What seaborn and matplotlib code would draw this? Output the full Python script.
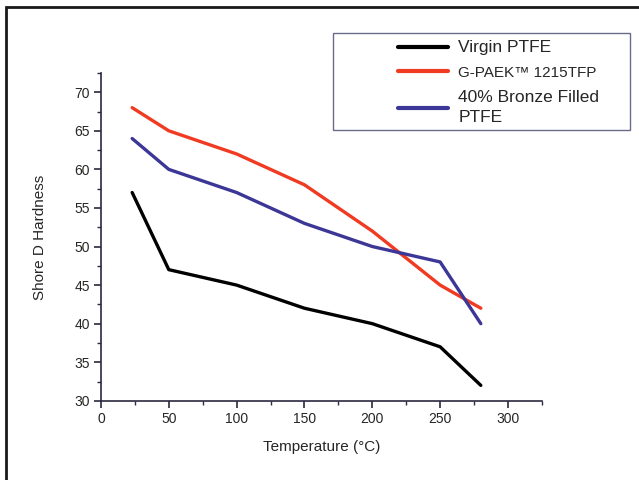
import pandas as pd
import numpy as np
import matplotlib.pyplot as plt
import seaborn as sns
from matplotlib.patches import Rectangle
from matplotlib.ticker import MultipleLocator

# data
temperature = [23, 50, 100, 150, 200, 250, 280]
virgin_ptfe = [57, 47, 45, 42, 40, 37, 32]
gpaek_1215tfp = [68, 65, 62, 58, 52, 45, 42]
bronze_ptfe = [64, 60, 57, 53, 50, 48, 40]

series_names = ['Virgin PTFE', 'G-PAEK\u2122 1215TFP', '40% Bronze Filled\nPTFE']
series_colors = ['#000000', '#f03a22', '#3c3796']

df = pd.DataFrame({
    'temperature': temperature * 3,
    'hardness': virgin_ptfe + gpaek_1215tfp + bronze_ptfe,
    'material': [n for n in series_names for _ in temperature],
})

sns.set_style('white')
plt.rcParams['font.family'] = ['Liberation Sans', 'DejaVu Sans']

W, H = 639, 480
fig = plt.figure(figsize=(W / 100, H / 100), dpi=100)
ax = fig.add_axes([0.158, 0.165, 0.69, 0.683])

sns.lineplot(data=df, x='temperature', y='hardness', hue='material',
             hue_order=series_names, palette=series_colors,
             linewidth=2.4, ax=ax, legend=True)

axis_color = '#2a2a40'
ax.set_xlim(0, 325)
ax.set_ylim(30, 72.5)
ax.xaxis.set_major_locator(MultipleLocator(50))
ax.xaxis.set_minor_locator(MultipleLocator(25))
ax.yaxis.set_major_locator(MultipleLocator(5))
ax.yaxis.set_minor_locator(MultipleLocator(2.5))
ax.tick_params(which='major', direction='out', length=5, width=1.2,
               color=axis_color, labelsize=10, pad=3, bottom=True, left=True)
ax.tick_params(which='minor', direction='out', length=3, width=1.0,
               color=axis_color, bottom=True, left=True)
ax.set_xticks([0, 50, 100, 150, 200, 250, 300])
ax.set_xticklabels(['0', '50', '100', '150', '200', '250', '300'])
for side in ['top', 'right']:
    ax.spines[side].set_visible(False)
for side in ['left', 'bottom']:
    ax.spines[side].set_color(axis_color)
    ax.spines[side].set_linewidth(1.2)

ax.set_xlabel('Temperature (\u00b0C)', fontsize=11, labelpad=10)
ax.set_ylabel('Shore D Hardness', fontsize=11, labelpad=20)

handles, labels = ax.get_legend_handles_labels()
ax.get_legend().remove()

# legend box, drawn separately so the entries can sit indented inside it
fig.patches.append(Rectangle((333 / W, 1 - 130 / H), 297 / W, 97 / H,
                             transform=fig.transFigure, fill=False,
                             edgecolor='#6a6a8a', linewidth=1.0))
leg = fig.legend(handles, labels, loc='upper left',
                 bbox_to_anchor=(398 / W, 1 - 40 / H),
                 bbox_transform=fig.transFigure,
                 fontsize=11, frameon=False,
                 handlelength=3.3, handletextpad=0.65,
                 borderpad=0, labelspacing=0.7, borderaxespad=0)
for line in leg.get_lines():
    line.set_linewidth(3)
legend_sizes = [12.5, 11, 12.5]
for txt, sz in zip(leg.get_texts(), legend_sizes):
    txt.set_fontsize(sz)
    txt.set_linespacing(1.4)

# outer frame around the figure (cut off at right and bottom)
fig.patches.append(Rectangle((6 / W, -0.1), 1.2, 1 - 7 / H + 0.1,
                             transform=fig.transFigure, fill=False,
                             edgecolor='#1a1a1a', linewidth=2))

fig.savefig('out.png', dpi=100)
